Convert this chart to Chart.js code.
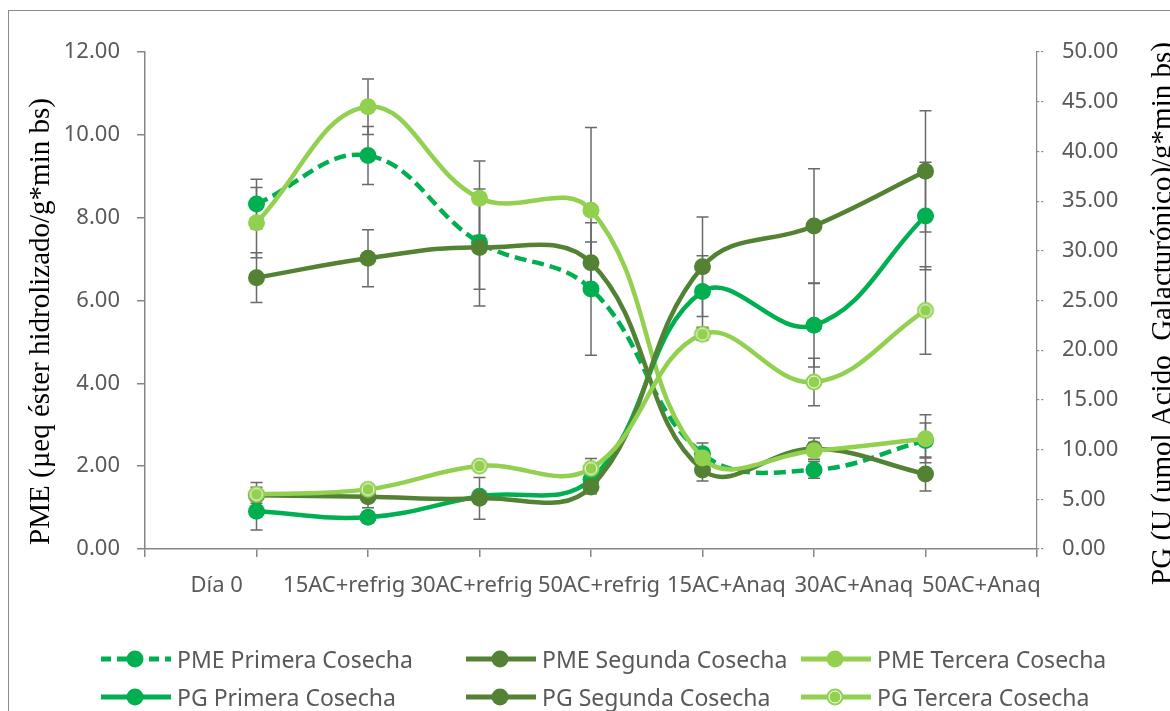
<!DOCTYPE html>
<html>
<head>
<meta charset="utf-8">
<script src="https://cdn.jsdelivr.net/npm/chart.js"></script>
<style>
  html, body { margin: 0; padding: 0; background: #fff; overflow: hidden; }
  #wrap { position: relative; width: 1170px; height: 711px; }
  #frame { position: absolute; left: 8px; top: 10px; width: 1300px; height: 900px;
           border-left: 1.5px solid #8c8c8c; border-top: 1.5px solid #8c8c8c; }
  #chart { position: absolute; left: 0; top: 0; }
  .item { position: absolute; display: flex; align-items: center; height: 30px;
          font: 23px 'Noto Sans'; color: #595959; white-space: nowrap; }
  .item svg { margin-right: 5px; }
</style>
</head>
<body>
<div id="wrap">
  <div id="frame"></div>
  <canvas id="chart" width="1170" height="711"></canvas>
  <div id="legend"></div>
</div>
<script>
// categories on the x axis
const categories = ['Día 0', '15AC+refrig', '30AC+refrig', '50AC+refrig', '15AC+Anaq', '30AC+Anaq', '50AC+Anaq'];

// PME (left axis)
const pmePrimera    = [8.33, 9.50, 7.40, 6.28, 2.30, 1.91, 2.62];
const pmePrimeraErr = [0.60, 0.70, 1.13, 1.60, 0.26, 0.20, 0.42];
const pmeSegunda    = [6.55, 7.02, 7.28, 6.91, 1.91, 2.42, 1.81];
const pmeSegundaErr = [0.60, 0.69, 1.41, 0.50, 0.27, 0.26, 0.41];
const pmeTercera    = [7.88, 10.68, 8.47, 8.18, 2.20, 2.37, 2.66];
const pmeTerceraErr = [0.85, 0.67, 0.90, 2.00, 0.20, 0.20, 0.58];

// PG (right axis)
const pgPrimera    = [3.8, 3.2, 5.3, 7.0, 25.9, 22.5, 33.5];
const pgPrimeraErr = [1.9, 0.4, 0.4, 0.3, 3.6, 4.2, 5.4];
const pgSegunda    = [5.4, 5.25, 5.1, 6.25, 28.4, 32.5, 38.0];
const pgSegundaErr = [0.8, 1.1, 2.1, 0.7, 5.0, 5.75, 6.1];
const pgTercera    = [5.5, 6.0, 8.35, 8.1, 21.6, 16.8, 24.0];
const pgTerceraErr = [1.2, 0.4, 0.4, 1.0, 0.6, 2.4, 4.4];

const cPrimera = '#00B050';
const cSegunda = '#548235';
const cTercera = '#92D050';
const axisColor = '#868686';
const textColor = '#595959';

function ringMarker(color) {
  const c = document.createElement('canvas');
  c.width = 20; c.height = 20;
  const g = c.getContext('2d');
  g.fillStyle = color;
  g.beginPath(); g.arc(10, 10, 8.5, 0, Math.PI * 2); g.fill();
  g.strokeStyle = '#fff'; g.lineWidth = 1;
  g.beginPath(); g.arc(10, 10, 6, 0, Math.PI * 2); g.stroke();
  return c;
}

const series = [
  { label: 'PME Primera Cosecha', data: pmePrimera, err: pmePrimeraErr, color: cPrimera, axis: 'y', dash: [12, 6] },
  { label: 'PME Segunda Cosecha', data: pmeSegunda, err: pmeSegundaErr, color: cSegunda, axis: 'y', dash: [] },
  { label: 'PME Tercera Cosecha', data: pmeTercera, err: pmeTerceraErr, color: cTercera, axis: 'y', dash: [] },
  { label: 'PG Primera Cosecha', data: pgPrimera, err: pgPrimeraErr, color: cPrimera, axis: 'y1', dash: [] },
  { label: 'PG Segunda Cosecha', data: pgSegunda, err: pgSegundaErr, color: cSegunda, axis: 'y1', dash: [] },
  { label: 'PG Tercera Cosecha', data: pgTercera, err: pgTerceraErr, color: cTercera, axis: 'y1', dash: [], ring: true }
];

// error bars, drawn under the lines
const errorBars = {
  id: 'errorBars',
  beforeDatasetsDraw(chart) {
    const ctx = chart.ctx;
    ctx.save();
    ctx.strokeStyle = '#6a6a6a';
    ctx.lineWidth = 1.5;
    chart.data.datasets.forEach((ds, i) => {
      const meta = chart.getDatasetMeta(i);
      const ys = chart.scales[ds.yAxisID];
      meta.data.forEach((pt, j) => {
        const v = ds.data[j], e = ds.errors[j];
        if (v == null || e == null) return;
        const x = pt.x;
        const y1 = ys.getPixelForValue(v + e), y2 = ys.getPixelForValue(v - e);
        ctx.beginPath();
        ctx.moveTo(x, y1); ctx.lineTo(x, y2);
        ctx.moveTo(x - 6, y1); ctx.lineTo(x + 6, y1);
        ctx.moveTo(x - 6, y2); ctx.lineTo(x + 6, y2);
        ctx.stroke();
      });
    });
    ctx.restore();
  }
};

// axis titles, both read bottom to top
const axisTitles = {
  id: 'axisTitles',
  afterDraw(chart) {
    const ctx = chart.ctx;
    const mid = (chart.chartArea.top + chart.chartArea.bottom) / 2;
    ctx.save();
    ctx.font = '29px "Liberation Serif"';
    ctx.fillStyle = '#000';
    ctx.textAlign = 'center';
    ctx.textBaseline = 'middle';
    ctx.translate(41, mid + 21);
    ctx.rotate(-Math.PI / 2);
    ctx.fillText('PME (µeq éster hidrolizado/g*min bs)', 0, 0);
    ctx.restore();
    ctx.save();
    ctx.font = '29px "Liberation Serif"';
    ctx.fillStyle = '#000';
    ctx.textAlign = 'center';
    ctx.textBaseline = 'middle';
    ctx.translate(1163, mid + 13);
    ctx.rotate(-Math.PI / 2);
    ctx.fillText('PG (U (umol Acido  Galacturónico)/g*min bs)', 0, 0);
    ctx.restore();
  }
};

const tickFont = { family: 'Noto Sans', size: 22 };

new Chart('chart', {
  type: 'line',
  data: {
    labels: ['', ...categories, ''],
    datasets: series.map((s, i) => ({
      label: s.label,
      data: [null, ...s.data, null],
      errors: [null, ...s.err, null],
      yAxisID: s.axis,
      borderColor: s.color,
      backgroundColor: s.color,
      borderWidth: 4.5,
      borderDash: s.dash,
      tension: 0.4,
      pointRadius: 8.5,
      pointBorderWidth: 0,
      pointStyle: s.ring ? ringMarker(s.color) : 'circle',
      order: series.length - i
    }))
  },
  options: {
    responsive: false,
    animation: false,
    layout: { padding: { top: 52, bottom: 0, left: 0, right: 0 } },
    plugins: { legend: { display: false }, tooltip: { enabled: false } },
    scales: {
      x: {
        type: 'category',
        offset: false,
        grid: { display: true, drawOnChartArea: false, drawTicks: true, tickLength: 8, color: axisColor, lineWidth: 1.5 },
        border: { color: axisColor, width: 1.5 },
        ticks: { display: false },
        afterFit(s) { s.height = 12; }
      },
      xl: {
        type: 'category',
        labels: categories,
        position: 'bottom',
        offset: true,
        weight: 1,
        grid: { display: false, drawTicks: false },
        border: { display: false },
        ticks: { font: tickFont, color: textColor, padding: 12, labelOffset: 8, maxRotation: 0, autoSkip: false },
        afterFit(s) { s.height = 150; }
      },
      y: {
        position: 'left',
        min: 0, max: 12,
        ticks: { stepSize: 2, callback: v => v.toFixed(2), font: tickFont, color: textColor, padding: 17 },
        grid: { drawOnChartArea: false, tickLength: 8, color: axisColor, lineWidth: 1.5 },
        border: { color: axisColor, width: 1.5 },
        afterFit(s) { s.width = 145; }
      },
      y1: {
        position: 'right',
        min: 0, max: 50,
        ticks: { stepSize: 5, callback: v => v.toFixed(2), font: tickFont, color: textColor, padding: 17 },
        grid: { drawOnChartArea: false, tickLength: 8, color: axisColor, lineWidth: 1.2, tickBorderDash: [2, 2] },
        border: { color: axisColor, width: 1.2, dash: [4, 3] },
        afterFit(s) { s.width = 133; }
      }
    }
  },
  plugins: [errorBars, axisTitles]
});

// legend laid out as a 3 x 2 grid like the original
const legendCols = [100, 465, 800];
const legendRows = [659, 697];
const legend = document.getElementById('legend');
series.forEach((s, i) => {
  const col = i % 3, row = Math.floor(i / 3);
  const item = document.createElement('div');
  item.className = 'item';
  item.style.left = legendCols[col] + 'px';
  item.style.top = (legendRows[row] - 15) + 'px';
  const dash = s.dash.length ? 'stroke-dasharray="10 6"' : '';
  const ring = s.ring ? '<circle cx="35" cy="15" r="6" fill="none" stroke="#fff" stroke-width="1"/>' : '';
  item.innerHTML =
    '<svg width="72" height="30"><line x1="1" y1="15" x2="71" y2="15" stroke="' + s.color + '" stroke-width="5" ' + dash + '/>' +
    '<circle cx="35" cy="15" r="8.5" fill="' + s.color + '"/>' + ring + '</svg><span>' + s.label + '</span>';
  legend.appendChild(item);
});
</script>
</body>
</html>
